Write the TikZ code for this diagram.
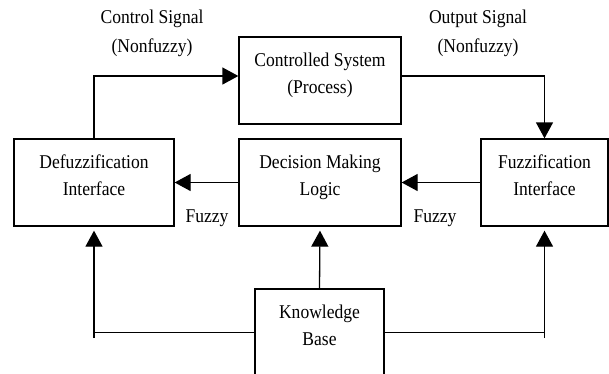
\documentclass[tikz,border=0pt]{standalone}
\usepackage{fontspec}
\setmainfont{Liberation Serif}[FakeStretch=0.9]
\usetikzlibrary{arrows.meta}

\begin{document}
\begin{tikzpicture}[
	x=1pt, y=-1pt,
	block/.style={draw, line width=1.3pt, align=center, minimum height=87pt, text depth=14pt, inner sep=0pt, font=\fontsize{19.5}{27}\selectfont},
	tag/.style={align=center, inner sep=0pt, font=\fontsize{19.5}{29}\selectfont},
	flow/.style={line width=1.3pt},
	signal/.style={flow, -{Triangle[length=16pt, width=17pt]}},
]
	\path[use as bounding box, clip] (0,0) rectangle (609,373);

	% blocks
	\node[block, minimum width=162pt] (plant) at (320,80.5) {Controlled System\\(Process)};
	\node[block, minimum width=160pt] (defuzz) at (94,182.5) {Defuzzification\\Interface};
	\node[block, minimum width=162pt] (logic) at (320,182.5) {Decision Making\\Logic};
	\node[block, minimum width=127pt] (fuzz) at (544.5,182.5) {Fuzzification\\Interface};
	\node[block, minimum width=129pt] (kb) at (319.5,332.5) {Knowledge\\Base};

	% labels
	\node[tag] (ctrlsig) at (152,33.5) {Control Signal\\(Nonfuzzy)};
	\node[tag] (outsig) at (478,33.5) {Output Signal\\(Nonfuzzy)};
	\node[tag] (fuzzyl) at (207,218) {Fuzzy};
	\node[tag] (fuzzyr) at (435,218) {Fuzzy};

	\coordinate (lfoot) at (94,338);
	\coordinate (rfoot) at (544.5,338);

	% loop
	\draw[signal] (defuzz.north) |- ([yshift=4.5pt]plant.west);
	\draw[signal] ([yshift=4.5pt]plant.east) -| (fuzz.north);
	\draw[signal] (fuzz.west) -- (logic.east);
	\draw[signal] (logic.west) -- (defuzz.east);

	% rule base
	\draw[flow] (kb.west) -- (kb.west -| lfoot);
	\draw[flow] (kb.east) -- (kb.east -| rfoot);
	\draw[signal, shorten >=4pt] (lfoot) -- (defuzz.south);
	\draw[signal, shorten >=4pt] (rfoot) -- (fuzz.south);
	\draw[signal, shorten >=4pt] (kb.north) -- (logic.south);
\end{tikzpicture}
\end{document}
